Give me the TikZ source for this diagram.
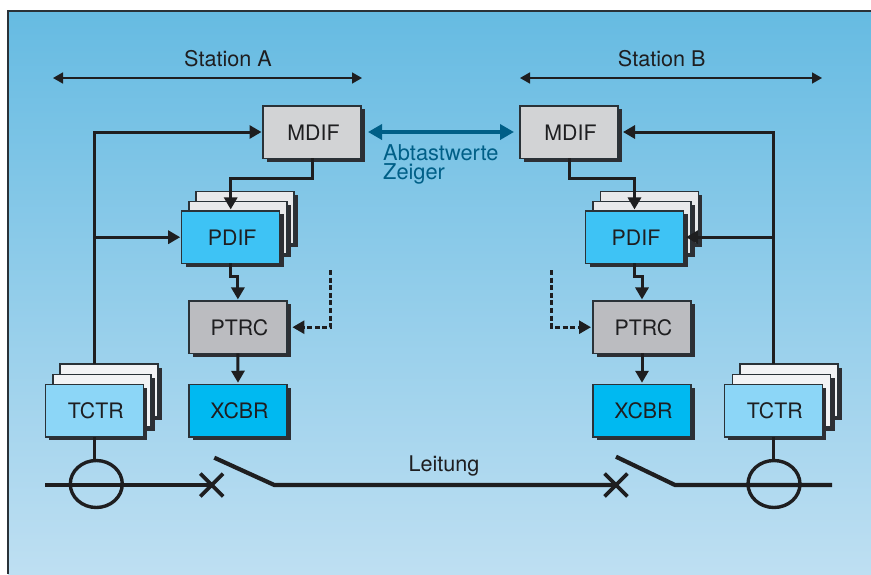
\documentclass[tikz,border=0pt]{standalone}
\usepackage{fontspec}
\setmainfont{TeX Gyre Heros}
\usetikzlibrary{arrows.meta, shadows, shapes.geometric, shapes.misc}

\definecolor{bgtop}{RGB}{102,187,226}
\definecolor{bgbottom}{RGB}{190,223,242}
\definecolor{boxline}{RGB}{42,50,56}
\definecolor{boxshadow}{RGB}{45,47,52}
\definecolor{inklight}{RGB}{30,30,32}
\definecolor{mdifgray}{RGB}{210,211,213}
\definecolor{ptrcgray}{RGB}{187,188,192}
\definecolor{pdifblue}{RGB}{62,195,245}
\definecolor{xcbrblue}{RGB}{0,185,241}
\definecolor{tctrblue}{RGB}{140,214,247}
\definecolor{pdifpage}{RGB}{232,233,235}
\definecolor{tctrpage}{RGB}{242,243,245}
\definecolor{datablue}{RGB}{0,95,135}

\tikzset{
  box/.style={draw=boxline, line width=1.5pt, text=inklight, inner sep=0pt, outer sep=0pt,
    minimum width=98pt, minimum height=52.5pt, font=\fontsize{21.3}{25}\selectfont,
    text height=16.3pt, text depth=0pt, execute at begin node=\hspace*{3pt},
    drop shadow={shadow xshift=4pt, shadow yshift=-3.5pt, fill=boxshadow, opacity=1}},
  conn/.style={-{Triangle[length=12pt,width=13pt]}, line width=3pt, draw=inklight, shorten >=1.5pt},
  sig/.style={conn, line width=2.7pt, dash pattern=on 5pt off 2.6pt, shorten >=2pt},
  span/.style={{Triangle[length=10pt,width=11pt]}-{Triangle[length=10pt,width=11pt]}, line width=1.7pt, draw=inklight},
  data/.style={{Triangle[length=14pt,width=15pt]}-{Triangle[length=14pt,width=15pt]}, line width=4.2pt,
    draw=datablue, shorten <=7pt, shorten >=6pt},
  wire/.style={line width=4.2pt, draw=inklight},
  stem/.style={line width=2.8pt, draw=inklight},
  sensor/.style={ellipse, draw=inklight, line width=3.4pt, minimum width=52pt, minimum height=47pt, inner sep=0pt},
  breaker/.style={cross out, draw=inklight, line width=3.8pt, minimum width=19pt, minimum height=19pt, inner sep=0pt},
  caption/.style={text=inklight, font=\fontsize{21.6}{25}\selectfont},
}

\begin{document}
\begin{tikzpicture}[x=1pt,y=-1pt]
  \useasboundingbox (0,0) rectangle (871,574);
  \fill[white] (0,0) rectangle (871,574);
  \shade[top color=bgtop, bottom color=bgbottom] (8,11) rectangle (871,574);
  \draw[line width=1.6pt, draw=boxline] (8,574) -- (8,11) -- (871,11);

  \node[box, fill=mdifgray] (mdifA) at (312,132) {MDIF};
  \node[box, fill=pdifpage] (pdifAb) at (245,217.7) {};
  \node[box, fill=pdifpage] (pdifAm) at (238.2,227.7) {};
  \node[box, fill=pdifblue] (pdifA) at (230.7,237.2) {PDIF};
  \node[box, fill=ptrcgray] (ptrcA) at (237.9,327.2) {PTRC};
  \node[box, fill=xcbrblue] (xcbrA) at (238,410.5) {XCBR};
  \node[box, fill=tctrpage] (tctrAb) at (109,390.4) {};
  \node[box, fill=tctrpage] (tctrAm) at (102,400.8) {};
  \node[box, fill=tctrblue] (tctrA) at (94.3,410.5) {TCTR};

  \node[box, fill=mdifgray] (mdifB) at (569,132) {MDIF};
  \node[box, fill=pdifpage] (pdifBb) at (649.3,217.7) {};
  \node[box, fill=pdifpage] (pdifBm) at (642,227.7) {};
  \node[box, fill=pdifblue] (pdifB) at (634.5,237.2) {PDIF};
  \node[box, fill=ptrcgray] (ptrcB) at (642,327.2) {PTRC};
  \node[box, fill=xcbrblue] (xcbrB) at (642,410.5) {XCBR};
  \node[box, fill=tctrpage] (tctrBb) at (788.8,390.4) {};
  \node[box, fill=tctrpage] (tctrBm) at (781.6,400.8) {};
  \node[box, fill=tctrblue] (tctrB) at (773.3,410.5) {TCTR};

  \node[caption] (stationA) at (228,58.5) {Station A};
  \node[caption] (stationB) at (661.7,58.5) {Station B};
  \node[caption] (leitung) at (444,465.5) {Leitung};
  \node[caption, text=datablue, anchor=north west, align=left, inner sep=0pt,
        font=\fontsize{21.8}{19}\selectfont] (werte) at (383,144) {Abtastwerte\\Zeiger};

  \coordinate (spanAl) at (53,78);
  \coordinate (spanAr) at (362,78);
  \coordinate (spanBl) at (520,78);
  \coordinate (spanBr) at (822,78);
  \draw[span] (spanAl) -- (spanAr);
  \draw[span] (spanBl) -- (spanBr);
  \draw[data] (mdifA.east) -- (mdifB.west);

  \draw[conn] (tctrA |- tctrAb.north) |- (mdifA.west);
  \draw[conn] (tctrA |- pdifA.west) -- (pdifA.west);
  \draw[conn] (mdifA.south) -- ++(0,20) -| (pdifA.north);
  \draw[conn] (pdifA.south) -- ++(0,13) -| (ptrcA.north);
  \draw[conn] (ptrcA.south) -- (xcbrA.north);

  \draw[conn] (tctrB |- tctrBb.north) |- ([xshift=3.5pt]mdifB.east);
  \draw[conn] (tctrB |- pdifB.east) -- ([xshift=1pt]pdifB.east);
  \draw[conn] (mdifB.south) -- ++(0,20) -| (pdifB.north);
  \draw[conn] (pdifB.south) -- ++(0,13) -| (ptrcB.north);
  \draw[conn] (ptrcB.south) -- (xcbrB.north);

  \coordinate (tripA) at (330.7,270);
  \coordinate (tripB) at (551.5,270);
  \draw[sig] (tripA) |- ([xshift=3.5pt]ptrcA.east);
  \draw[sig] (tripB) |- (ptrcB.west);

  \node[sensor] (sensorA) at (96.3,484) {};
  \node[sensor] (sensorB) at (774,484) {};
  \node[breaker] (breakerA) at (211.7,485) {};
  \node[breaker] (breakerB) at (616,485) {};
  \coordinate (lineA) at (45,485);
  \coordinate (lineB) at (832,485);
  \coordinate (armA) at (214.3,457.7);
  \coordinate (hingeA) at (274.3,485);
  \coordinate (armB) at (616,456.7);
  \coordinate (hingeB) at (675,485);

  \draw[stem] (tctrA.south) -- (tctrA |- sensorA.north);
  \draw[stem] (tctrB.south) -- (tctrB |- sensorB.north);
  \draw[wire] (lineA) -- (breakerA.center);
  \draw[wire, line join=miter] (armA) -- (hingeA) -- (breakerB.center);
  \draw[wire, line join=miter] (armB) -- (hingeB) -- (lineB);
\end{tikzpicture}
\end{document}
